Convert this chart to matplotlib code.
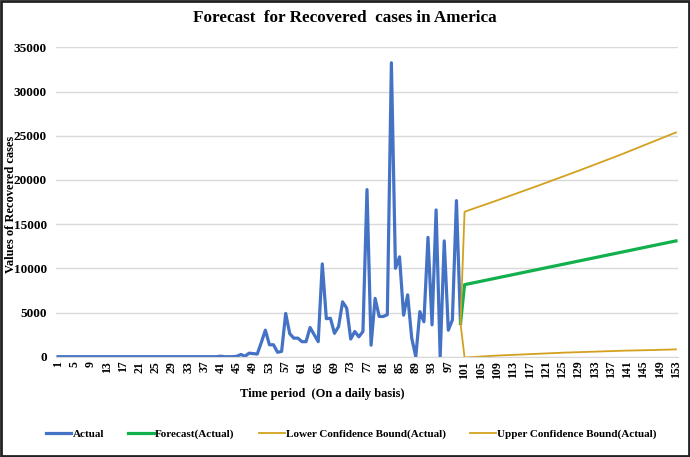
import matplotlib
matplotlib.use("Agg")
import matplotlib.pyplot as plt
from matplotlib.patches import Rectangle

plt.rcParams['font.family'] = ['Liberation Serif', 'DejaVu Serif']
plt.rcParams['font.weight'] = 'bold'

# Actual values, days 1..100
actual = [0] * 40 + [
    60, 0, 0, 0, 50, 250, 50, 400, 350, 300,            # 41-50
    1600, 3000, 1350, 1350, 500, 600, 4900, 2600, 2100, 2100,   # 51-60
    1700, 1700, 3300, 2500, 1700, 10500, 4300, 4350, 2650, 3400,  # 61-70
    6200, 5500, 2000, 2850, 2250, 2850, 18900, 1300, 6600, 4550,  # 71-80
    4550, 4750, 33250, 10000, 11300, 4700, 7000, 2100, 0, 5100,   # 81-90
    3950, 13500, 3600, 16600, 0, 13100, 3000, 4150, 17650, 3770,  # 91-100
]
actual_days = list(range(1, 101))

# Forecast series, days 100..153 (day 100 = last actual)
fc_days = list(range(100, 154))
forecast = [
    3770,
    8150, 8245, 8340, 8436, 8531, 8626, 8721, 8816, 8912, 9007,
    9102, 9197, 9292, 9388, 9483, 9578, 9673, 9768, 9864, 9959,
    10054, 10149, 10244, 10340, 10435, 10530, 10625, 10720, 10816, 10911,
    11006, 11101, 11196, 11292, 11387, 11482, 11577, 11672, 11768, 11863,
    11958, 12053, 12148, 12244, 12339, 12434, 12529, 12624, 12720, 12815,
    12910, 13005, 13100,
]
lower = [
    3770,
    -100, -70, -40, -10, 20, 50, 70, 100, 130, 150,
    170, 190, 210, 230, 250, 270, 290, 310, 330, 350,
    370, 390, 410, 430, 450, 470, 480, 500, 510, 530,
    540, 560, 570, 590, 600, 620, 630, 650, 660, 680,
    690, 700, 710, 720, 730, 740, 750, 760, 780, 790,
    800, 815, 830,
]
upper = [
    3770,
    16400, 16560, 16720, 16880, 17040, 17200, 17360, 17520, 17680, 17845,
    18010, 18175, 18340, 18505, 18670, 18835, 19000, 19165, 19330, 19500,
    19670, 19840, 20010, 20180, 20350, 20520, 20690, 20860, 21030, 21205,
    21380, 21555, 21730, 21905, 22080, 22255, 22430, 22605, 22780, 22965,
    23150, 23335, 23520, 23705, 23890, 24075, 24260, 24445, 24630, 24815,
    25000, 25185, 25370,
]

x_ticks = list(range(1, 154, 4))
y_ticks = [0, 5000, 10000, 15000, 20000, 25000, 30000, 35000]

W, H = 690, 457
fig = plt.figure(figsize=(W / 100, H / 100), dpi=100)
ax = fig.add_axes([56 / W, 1 - 356.7 / H, (678 - 56) / W, (356.7 - 47.3) / H])

c_act = '#4472C4'
c_fc = '#12B04C'
c_bd = '#D4A11E'

ax.plot(actual_days, actual, color=c_act, lw=2.3, label='Actual', solid_joinstyle='round')
ax.plot(fc_days, forecast, color=c_fc, lw=2.3, label='Forecast(Actual)')
ax.plot(fc_days, lower, color=c_bd, lw=1.3, label='Lower Confidence Bound(Actual)')
ax.plot(fc_days, upper, color=c_bd, lw=1.3, label='Upper Confidence Bound(Actual)')

ax.set_xlim(0.5, 153.5)
ax.set_ylim(0, 35000)
ax.set_yticks(y_ticks)
ax.set_yticklabels([str(v) for v in y_ticks], fontsize=9.5, fontweight='bold')
ax.set_xticks(x_ticks)
ax.set_xticklabels([str(v) for v in x_ticks], rotation=90, fontsize=8.5, fontweight='bold')
ax.tick_params(axis='y', length=0, pad=6.5)
ax.tick_params(axis='x', length=0, pad=3)
ax.grid(axis='y', color='#D9D9D9', lw=1)
ax.set_axisbelow(True)
for s in ['left', 'right', 'top']:
    ax.spines[s].set_visible(False)
ax.spines['bottom'].set_color('#D9D9D9')

fig.text(0.5, 1 - 18 / H, 'Forecast  for Recovered  cases in America', ha='center', va='center',
         fontsize=12.3, fontweight='bold')
fig.text(11 / W, 1 - 204 / H, 'Values of Recovered cases', rotation=90, ha='center', va='center',
         fontsize=9, fontweight='bold')
fig.text(322 / W, 1 - 394 / H, 'Time period  (On a daily basis)', ha='center', va='center',
         fontsize=9, fontweight='bold')

fig.legend(loc='center', bbox_to_anchor=(351 / W, 1 - 434 / H), ncol=4, frameon=False,
           prop={'size': 8, 'weight': 'bold'}, handlelength=2.3, handletextpad=0.1,
           columnspacing=2.2)

fig.patches.append(Rectangle((0.002, 0.003), 0.996, 0.994, transform=fig.transFigure,
                             fill=False, edgecolor='#222222', lw=2))

fig.savefig('out.png', dpi=100)
